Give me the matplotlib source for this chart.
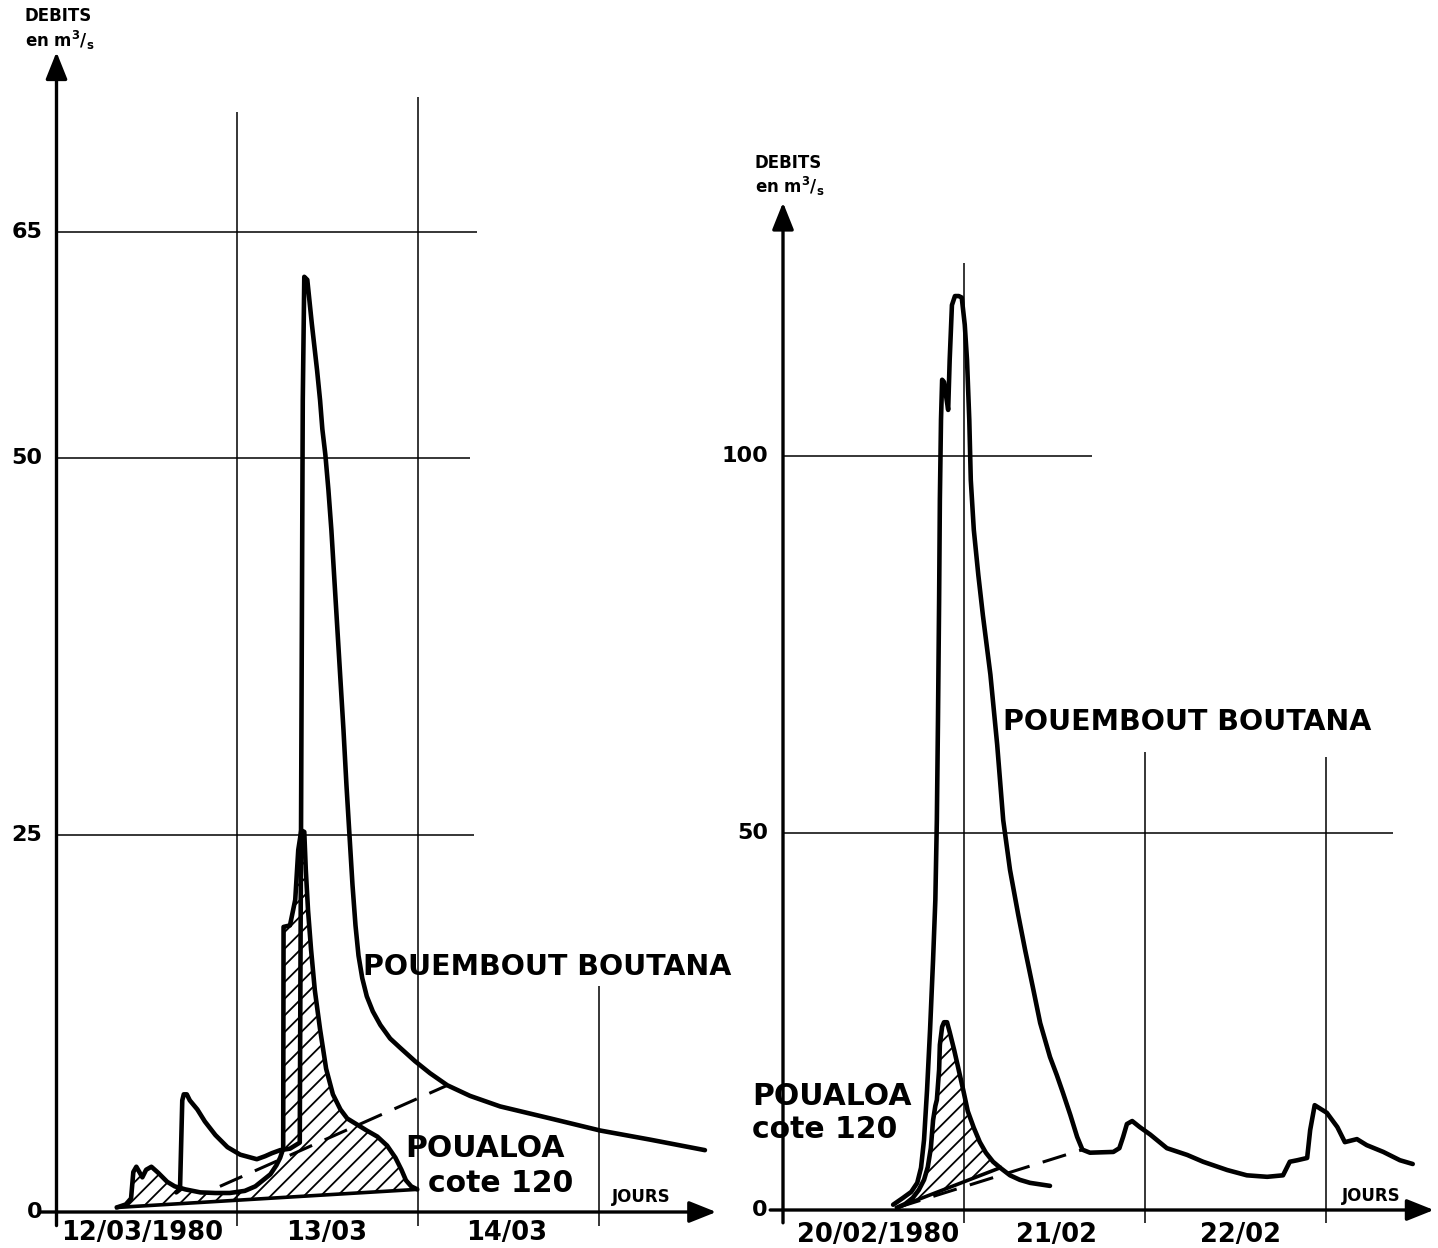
import numpy as np
import matplotlib
matplotlib.use('Agg')
import matplotlib.pyplot as plt

plt.rcParams['font.family'] = 'DejaVu Sans'
plt.rcParams['font.weight'] = 'bold'
plt.rcParams['mathtext.fontset'] = 'dejavusans'
plt.rcParams['hatch.linewidth'] = 1.3

# ---- crue du 12-14/03/1980 (heures depuis le 12/03 0h, debits m3/s)
t_pb1 = [15.9, 16.4, 16.7, 16.9, 17.3, 17.7, 18.7, 19.7, 21.1, 22.7, 24.4, 26.6, 27.7, 28.6,
         29.7, 31.0, 32.3, 32.7, 32.9, 33.3, 33.9, 34.6, 35.0, 35.3, 35.7, 36.1, 36.5, 36.9,
         37.3, 37.7, 38.1, 38.5, 38.9, 39.3, 39.7, 40.1, 40.6, 41.2, 42.0, 43.0, 44.3, 45.6,
         47.6, 49.6, 51.9, 54.9, 58.9, 65.6, 72.2, 78.8, 86.1]
q_pb1 = [1.3, 1.5, 7.4, 7.8, 7.8, 7.4, 6.8, 6.0, 5.1, 4.3, 3.8, 3.5, 3.7, 3.9,
         4.1, 4.2, 4.6, 53.8, 62.0, 61.8, 58.9, 55.8, 53.8, 51.9, 50.2, 47.9, 45.2, 41.9,
         38.6, 35.3, 32.0, 28.3, 25.0, 21.7, 19.0, 17.0, 15.5, 14.3, 13.3, 12.4, 11.5, 10.9,
         10.0, 9.2, 8.4, 7.7, 7.0, 6.2, 5.4, 4.8, 4.1]

t_pa1 = [8.0, 9.2, 9.9, 10.2, 10.6, 11.4, 11.9, 12.6, 13.5, 14.7, 15.7, 17.1, 19.1, 21.1,
         23.0, 25.0, 26.4, 27.4, 28.4, 29.2, 29.7, 30.1, 30.15, 31.0, 31.7, 32.1, 32.5, 32.9,
         33.1, 33.4, 33.8, 34.3, 35.0, 35.8, 36.7, 37.7, 38.6, 39.9, 41.2, 42.6, 43.9, 45.0,
         45.8, 46.4, 47.1, 47.9]
q_pa1 = [0.3, 0.5, 0.9, 2.65, 3.0, 2.3, 2.8, 3.0, 2.6, 2.0, 1.7, 1.5, 1.3, 1.26,
         1.26, 1.4, 1.7, 2.1, 2.5, 3.1, 3.6, 4.2, 18.9, 19.0, 20.7, 24.0, 25.3, 25.2,
         22.7, 20.0, 17.4, 14.7, 12.1, 9.5, 7.8, 6.8, 6.2, 5.8, 5.4, 5.0, 4.4, 3.6,
         2.8, 2.1, 1.7, 1.5]

sep_t1 = [21.7, 51.9]
sep_q1 = [1.7, 8.4]

# ---- crue du 20-22/02/1980 (heures depuis le 20/02 0h)
t_pb2 = [14.6, 15.9, 17.0, 17.8, 18.3, 18.7, 19.1, 19.5, 19.9, 20.2, 20.4, 20.55, 20.7, 20.8,
         20.95, 21.1, 21.35, 21.6, 21.9, 22.1, 22.4, 22.8, 23.3, 23.7, 24.1, 24.4, 24.7, 24.9,
         25.3, 25.9, 26.5, 27.5, 28.4, 29.2, 30.1, 31.2, 32.1, 33.2, 34.1, 35.4, 36.3, 37.1,
         38.1, 39.0, 39.7, 40.7, 43.8, 44.6, 45.1, 45.6, 46.3, 47.3, 48.7, 50.9, 53.6, 55.7,
         58.9, 61.5, 64.2, 66.3, 67.2, 68.2, 69.5, 69.9, 70.5, 72.1, 73.5, 74.5, 76.1, 77.4,
         79.6, 81.8, 83.5]
q_pb2 = [0.7, 1.6, 2.4, 3.6, 5.6, 9.3, 15.9, 23.9, 33.2, 41.1, 51.7, 65.0, 80.9, 94.2,
         104.8, 110.1, 109.8, 108.1, 106.1, 112.7, 120.0, 121.2, 121.2, 121.0, 117.4, 112.7, 104.8, 96.8,
         90.2, 84.2, 78.9, 71.0, 61.7, 51.7, 45.1, 39.1, 34.5, 29.2, 24.8, 20.3, 17.9, 15.6,
         12.6, 9.7, 8.0, 7.6, 7.7, 8.2, 9.7, 11.4, 11.8, 11.0, 10.0, 8.2, 7.3, 6.4,
         5.3, 4.6, 4.4, 4.6, 6.4, 6.6, 6.9, 10.6, 13.9, 12.9, 11.0, 9.0, 9.4, 8.6,
         7.7, 6.6, 6.1]

t_pa2 = [15.1, 16.2, 17.2, 18.0, 18.7, 19.2, 19.6, 19.9, 20.2, 20.4, 20.7, 20.8, 21.1, 21.35,
         21.75, 22.1, 22.7, 23.2, 23.9, 24.5, 25.3, 26.1, 26.9, 27.85, 28.8, 30.1, 31.4, 32.75,
         35.4]
q_pa2 = [0.3, 0.8, 1.6, 2.65, 4.0, 5.7, 8.2, 11.9, 13.8, 14.6, 18.6, 21.9, 24.3, 24.9,
         24.9, 23.6, 21.2, 19.0, 15.9, 13.1, 10.9, 9.0, 7.6, 6.4, 5.6, 4.6, 4.0, 3.6,
         3.2]
hatch_end2 = 24  # dernier point de la zone hachuree

sep_t2 = [15.1, 39.7]
sep_q2 = [0.3, 8.0]

W, H = 1438, 1248
fig = plt.figure(figsize=(W / 100, H / 100), dpi=100)


def make_ax(x0, x1, y0, y1):
    return fig.add_axes([x0 / W, 1 - y1 / H, (x1 - x0) / W, (y1 - y0) / H])


def arrow(ax, p0, p1):
    ax.annotate('', xy=p1, xytext=p0, annotation_clip=False,
                arrowprops=dict(arrowstyle='-|>,head_width=0.3,head_length=0.75', lw=2.4,
                                color='k', shrinkA=0, shrinkB=0, mutation_scale=22))


def line(ax, x, y, **kw):
    opts = dict(color='k', lw=1.1, clip_on=False, solid_capstyle='butt')
    opts.update(kw)
    ax.plot(x, y, **opts)


curve = dict(color='k', lw=3.3, clip_on=False, solid_joinstyle='round', solid_capstyle='round')
dash = dict(color='k', lw=2.2, dashes=(8, 4.5), clip_on=False)
big = 20.5
mid = 21.5

# ================= left panel
ax1 = make_ax(56.5, 720, 40, 1212)
ax1.set_xlim(0, 88.1)
ax1.set_ylim(0, 77.7)
ax1.set_axis_off()

arrow(ax1, (0, -0.9), (0, 76.9))
arrow(ax1, (-2.2, 0), (87.6, 0))
for q, xe in [(65, 55.8), (50, 54.9), (25, 55.4)]:
    line(ax1, [0, xe], [q, q])
for t, ytop in [(24, 72.9), (48, 73.9), (72, 15.0)]:
    line(ax1, [t, t], [-0.9, ytop])

ax1.fill(t_pa1, q_pa1, facecolor='none', edgecolor='k', hatch='//', lw=0, clip_on=False)
ax1.plot(t_pa1, q_pa1, **curve)
ax1.plot([t_pa1[0], t_pa1[-1]], [q_pa1[0], q_pa1[-1]], color='k', lw=2.6, clip_on=False)
ax1.plot(t_pb1, q_pb1, **curve)
ax1.plot(sep_t1, sep_q1, **dash)

for q in [65, 50, 25, 0]:
    ax1.text(-1.9, q, str(q), ha='right', va='center', fontsize=16)
for t, lab in [(11.4, '12/03/1980'), (35.9, '13/03'), (59.8, '14/03')]:
    ax1.text(t, -1.4, lab, ha='center', va='center', fontsize=18.5)
ax1.text(77.6, 1.0, 'JOURS', ha='center', va='center', fontsize=12)
ax1.text(0.2, 79.3, 'DEBITS', ha='center', va='center', fontsize=12)
ax1.text(0.5, 77.7, r'en m$^\mathbf{3}$/$_\mathbf{s}$', ha='center', va='center', fontsize=12)
ax1.text(40.7, 16.25, 'POUEMBOUT BOUTANA', ha='left', va='center', fontsize=big)
ax1.text(46.3, 4.2, 'POUALOA', ha='left', va='center', fontsize=mid)
ax1.text(49.3, 1.9, 'cote 120', ha='left', va='center', fontsize=mid)

# ================= right panel
ax2 = make_ax(783, 1438, 195, 1210)
ax2.set_xlim(0, 86.85)
ax2.set_ylim(0, 134.6)
ax2.set_axis_off()

arrow(ax2, (0, -1.7), (0, 133.6))
arrow(ax2, (-1.7, 0), (86.3, 0))
for q, xe in [(100, 41.0), (50, 80.9)]:
    line(ax2, [0, xe], [q, q])
for t, ytop in [(24, 125.6), (48, 60.7), (72, 60.1)]:
    line(ax2, [t, t], [-1.7, ytop])

n = hatch_end2 + 1
ax2.fill(t_pa2[:n], q_pa2[:n], facecolor='none', edgecolor='k', hatch='//', lw=0, clip_on=False)
ax2.plot(t_pa2, q_pa2, **curve)
ax2.plot([t_pa2[0], t_pa2[hatch_end2]], [q_pa2[0], q_pa2[hatch_end2]], color='k', lw=2.6,
         clip_on=False)
ax2.plot(t_pb2, q_pb2, **curve)
ax2.plot(sep_t2, sep_q2, **dash)

for q in [100, 50, 0]:
    ax2.text(-2.0, q, str(q), ha='right', va='center', fontsize=16)
for t, lab in [(12.6, '20/02/1980'), (36.3, '21/02'), (60.6, '22/02')]:
    ax2.text(t, -3.3, lab, ha='center', va='center', fontsize=18.5)
ax2.text(78.0, 1.9, 'JOURS', ha='center', va='center', fontsize=12)
ax2.text(0.66, 138.9, 'DEBITS', ha='center', va='center', fontsize=12)
ax2.text(0.9, 135.8, r'en m$^\mathbf{3}$/$_\mathbf{s}$', ha='center', va='center', fontsize=12)
ax2.text(29.2, 64.7, 'POUEMBOUT BOUTANA', ha='left', va='center', fontsize=big)
ax2.text(-4.1, 15.1, 'POUALOA', ha='left', va='center', fontsize=mid)
ax2.text(-4.1, 10.7, 'cote 120', ha='left', va='center', fontsize=mid)

fig.savefig('out.png', dpi=100)
